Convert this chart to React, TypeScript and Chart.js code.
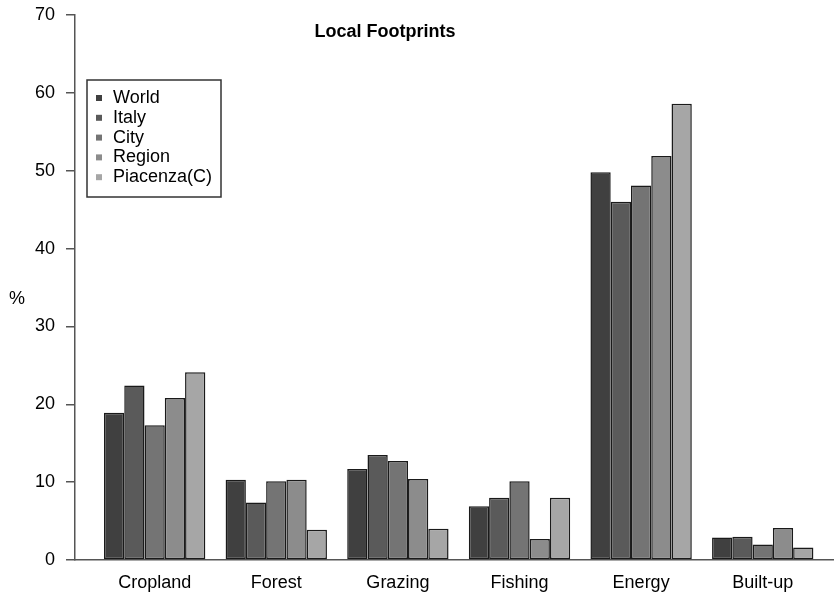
import React, { useEffect, useRef } from 'react';
import { Chart, registerables } from 'chart.js';

Chart.register(...registerables);

const categories = ['Cropland', 'Forest', 'Grazing', 'Fishing', 'Energy', 'Built-up'];
const seriesNames = ['World', 'Italy', 'City', 'Region', 'Piacenza(C)'];
const world = [18.9, 10.3, 11.7, 6.9, 49.8, 2.9];
const italy = [22.4, 7.4, 13.5, 8.0, 46.0, 3.0];
const city = [17.3, 10.1, 12.7, 10.1, 48.1, 2.0];
const region = [20.8, 10.3, 10.4, 2.7, 51.9, 4.1];
const piacenza = [24.1, 3.9, 4.0, 8.0, 58.6, 1.6];
const yTicks = [0, 10, 20, 30, 40, 50, 60, 70];
const seriesColors = ['#404040', '#5a5a5a', '#747474', '#8c8c8c', '#a6a6a6'];

const FONT = "'Liberation Sans', Arial, Helvetica, sans-serif";

const extrasPlugin = {
  id: 'extras',
  afterDraw(chart: any) {
    const { ctx, chartArea } = chart;
    ctx.save();
    // title
    ctx.fillStyle = '#000';
    ctx.font = `bold 18px ${FONT}`;
    ctx.textAlign = 'center';
    ctx.textBaseline = 'middle';
    ctx.fillText('Local Footprints', chartArea.left + 310, chartArea.top + 17);
    // y label
    ctx.font = `18px ${FONT}`;
    ctx.fillText('%', 17, 299);
    // legend
    const bx = chartArea.left + 12;
    const by = chartArea.top + 65;
    ctx.strokeStyle = '#333';
    ctx.lineWidth = 1.5;
    ctx.strokeRect(bx, by, 134, 117);
    ctx.textAlign = 'left';
    chart.data.datasets.forEach((ds: any, i: number) => {
      const cy = by + 18 + i * 19.8;
      ctx.fillStyle = ds.backgroundColor;
      ctx.fillRect(bx + 9, cy - 3, 6, 6);
      ctx.fillStyle = '#000';
      ctx.fillText(ds.label, bx + 26, cy);
    });
    ctx.restore();
  },
};

export default function App() {
  const ref = useRef<HTMLCanvasElement>(null);
  useEffect(() => {
    if (!ref.current) return;
    const series = [world, italy, city, region, piacenza];
    const chart = new Chart(ref.current, {
      type: 'bar',
      data: {
        datasets: series.map((vals, si) => ({
          label: seriesNames[si],
          data: vals.map((v, i) => ({ x: i, y: v })),
          backgroundColor: seriesColors[si],
          borderColor: '#1a1a1a',
          borderWidth: 1.5,
          borderSkipped: false,
        })),
      },
      options: {
        responsive: false,
        animation: false,
        devicePixelRatio: 1,
        layout: { padding: { top: 15, right: 0, bottom: 0, left: 0 } },
        datasets: { bar: { barPercentage: 1, categoryPercentage: 5 / 6 } },
        plugins: { legend: { display: false }, title: { display: false }, tooltip: { enabled: false } },
        scales: {
          x: {
            type: 'linear',
            offset: false,
            min: -0.655,
            max: 5.586,
            afterBuildTicks: (s: any) => {
              s.ticks = categories.map((_, i) => ({ value: i }));
            },
            afterFit: (s: any) => {
              s.height = 34;
              s.paddingLeft = 0;
              s.paddingRight = 0;
            },
            ticks: {
              callback: (v: any) => categories[v as number] ?? '',
              font: { family: FONT, size: 18 },
              color: '#000',
              padding: 12,
              maxRotation: 0,
              autoSkip: false,
            },
            grid: { display: false, drawTicks: false, offset: false },
            border: { display: true, color: '#555', width: 1.5 },
          },
          y: {
            type: 'linear',
            min: 0,
            max: 70,
            afterBuildTicks: (s: any) => {
              s.ticks = yTicks.map((v) => ({ value: v }));
            },
            afterFit: (s: any) => {
              s.width = 75;
              s.paddingTop = 0;
              s.paddingBottom = 0;
            },
            ticks: {
              font: { family: FONT, size: 18 },
              color: '#000',
              padding: 11,
            },
            grid: { drawOnChartArea: false, drawTicks: true, tickLength: 9, color: '#555', lineWidth: 1.5 },
            border: { display: true, color: '#555', width: 1.5 },
          },
        },
      },
      plugins: [extrasPlugin],
    } as any);
    return () => chart.destroy();
  }, []);
  return (
    <div style={{ position: 'fixed', left: 0, top: 0, width: 834, height: 594, background: '#fff' }}>
      <canvas ref={ref} width={834} height={594} style={{ display: 'block', width: 834, height: 594 }} />
    </div>
  );
}
